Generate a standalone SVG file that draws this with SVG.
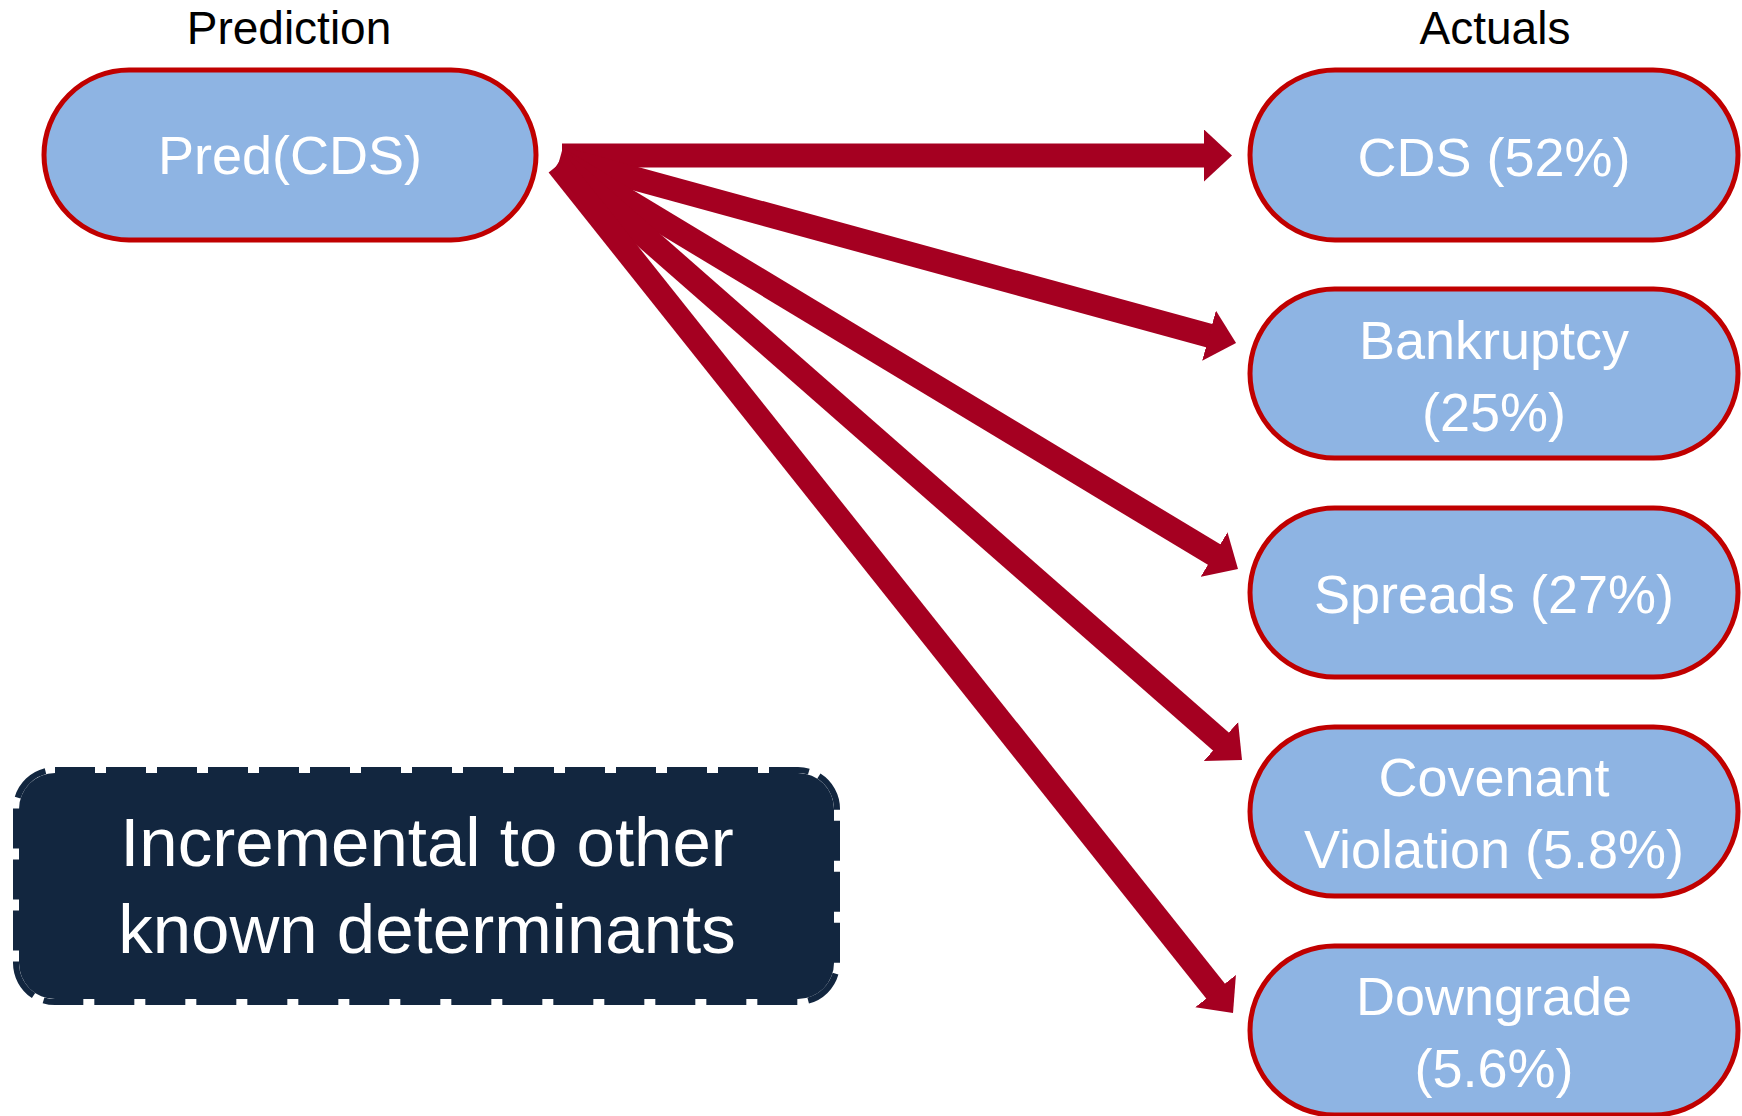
<svg xmlns="http://www.w3.org/2000/svg" width="1742" height="1116" viewBox="0 0 1742 1116">
<style>
.hdr{font-family:"Liberation Sans",Arial,sans-serif;font-size:46px;fill:#000;text-anchor:middle}
.node{fill:#8EB4E3;stroke:#C00000;stroke-width:5}
.lbl{font-family:"Liberation Sans",Arial,sans-serif;font-size:54px;fill:#fff;text-anchor:middle}
.conn{stroke:#A50021;stroke-width:24;fill:none;marker-end:url(#head)}
.big{font-family:"Liberation Sans",Arial,sans-serif;font-size:69px;fill:#fff;text-anchor:middle}
</style>
<defs>
<marker id="head" markerUnits="userSpaceOnUse" markerWidth="28" markerHeight="52" viewBox="0 0 28 52" refX="1" refY="26" orient="auto">
<path d="M0,0 L28,26 L0,52 Z" fill="#A50021"/>
</marker>
</defs>
<rect width="1742" height="1116" fill="#fff"/>
<text class="hdr" x="289" y="44">Prediction</text>
<text class="hdr" x="1495" y="44">Actuals</text>
<g id="connectors">
<line class="conn" x1="562" y1="155.5" x2="1205" y2="155.5"/>
<line class="conn" x1="560" y1="158" x2="1210" y2="335.9"/>
<line class="conn" x1="560" y1="160" x2="1214.9" y2="555.1"/>
<line class="conn" x1="560" y1="162" x2="1221.7" y2="742.2"/>
<line class="conn" x1="558" y1="165" x2="1216.2" y2="991.9"/>
</g>
<g id="pred">
<rect class="node" x="44" y="70" width="492" height="170" rx="85"/>
<text class="lbl" x="290" y="174">Pred(CDS)</text>
</g>
<g id="cds">
<rect class="node" x="1250" y="70" width="488" height="170" rx="85"/>
<text class="lbl" x="1494" y="176">CDS (52%)</text>
</g>
<g id="bankruptcy">
<rect class="node" x="1250" y="289" width="488" height="169" rx="84.5"/>
<text class="lbl" x="1494" y="359">Bankruptcy</text>
<text class="lbl" x="1494" y="431">(25%)</text>
</g>
<g id="spreads">
<rect class="node" x="1250" y="508" width="488" height="169" rx="84.5"/>
<text class="lbl" x="1494" y="613">Spreads (27%)</text>
</g>
<g id="covenant">
<rect class="node" x="1250" y="727" width="488" height="169" rx="84.5"/>
<text class="lbl" x="1494" y="796">Covenant</text>
<text class="lbl" x="1494" y="868">Violation (5.8%)</text>
</g>
<g id="downgrade">
<rect class="node" x="1250" y="946" width="488" height="169" rx="84.5"/>
<text class="lbl" x="1494" y="1015">Downgrade</text>
<text class="lbl" x="1494" y="1087">(5.6%)</text>
</g>
<g id="note">
<rect x="19" y="773" width="815" height="226" rx="36" fill="#12263F"/>
<rect x="16" y="770" width="821" height="232" rx="39" fill="none" stroke="#12263F" stroke-width="6" stroke-dasharray="40 11"/>
<text class="big" x="427" y="866">Incremental to other</text>
<text class="big" x="427" y="953">known determinants</text>
</g>
</svg>
